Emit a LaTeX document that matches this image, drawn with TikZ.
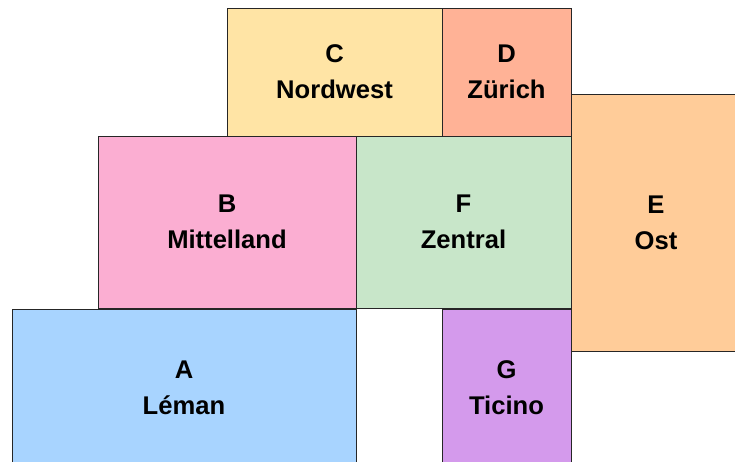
\documentclass[tikz,border=0pt]{standalone}
\usepackage{fontspec}
\setmainfont{Liberation Sans}
\usepackage{tikz}

\definecolor{nwyellow}{RGB}{255,228,165}
\definecolor{zhsalmon}{RGB}{255,178,150}
\definecolor{ostpeach}{RGB}{255,204,153}
\definecolor{mlpink}{RGB}{251,174,210}
\definecolor{zegreen}{RGB}{200,230,201}
\definecolor{leblue}{RGB}{168,212,255}
\definecolor{tipurple}{RGB}{212,154,236}

\begin{document}
\begin{tikzpicture}[x=0.75pt, y=-0.75pt,
  region/.style={draw=black!85, line width=0.75pt, inner sep=0pt,
    align=center, font=\fontsize{19.2}{27}\selectfont\bfseries}]
  \clip (0,0) rectangle (735,461);
  % grossregionen
  \node[region, fill=nwyellow, minimum width=161.25pt, minimum height=96pt]
    (nordwest) at (334.5,72) {C\\Nordwest};
  \node[region, fill=zhsalmon, minimum width=96.75pt, minimum height=96pt]
    (zuerich) at (506.5,72) {D\\Zürich};
  \node[region, fill=ostpeach, minimum width=127.5pt, minimum height=192.75pt]
    (ost) at (656,222.5) {E\\Ost};
  \node[region, fill=mlpink, minimum width=193.5pt, minimum height=129pt]
    (mittelland) at (227,222) {B\\Mittelland};
  \node[region, fill=zegreen, minimum width=161.25pt, minimum height=129pt]
    (zentral) at (463.5,222) {F\\Zentral};
  \node[region, fill=leblue, minimum width=258pt, minimum height=117pt]
    (leman) at (184,387.5) {A\\Léman};
  \node[region, fill=tipurple, minimum width=96.75pt, minimum height=117pt]
    (ticino) at (506.5,387.5) {G\\Ticino};
\end{tikzpicture}
\end{document}
